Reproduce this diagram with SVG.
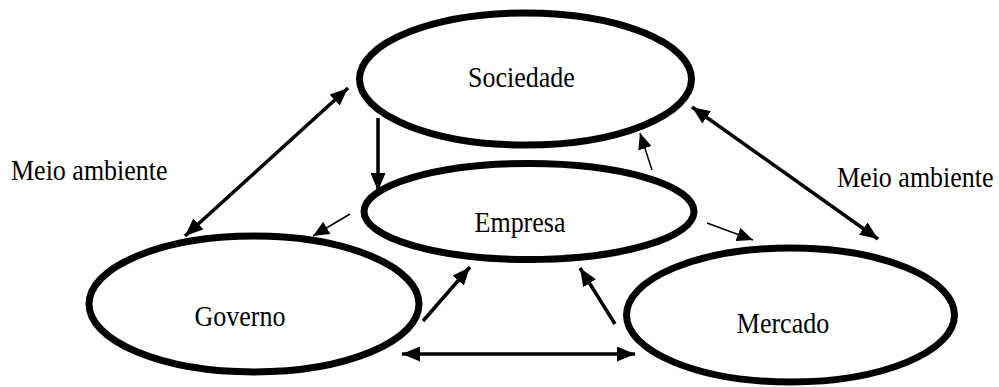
<svg xmlns="http://www.w3.org/2000/svg" width="999" height="387" viewBox="0 0 999 387">
<style>
.node ellipse{fill:none;stroke:#000;stroke-width:7}
.lbl{font-family:"Liberation Serif","Times New Roman",serif;font-size:26px;fill:#000}
.thick{stroke:#000;stroke-width:3.5;fill:none}
.thin{stroke:#000;stroke-width:1.5;fill:none}
</style>
<defs>
<marker id="hk" markerUnits="userSpaceOnUse" viewBox="0 0 18 15" markerWidth="18" markerHeight="15" refX="18" refY="7.5" orient="auto-start-reverse"><path d="M0,0 L18,7.5 L0,15 z" fill="#000"/></marker>
<marker id="hn" markerUnits="userSpaceOnUse" viewBox="0 0 16 14" markerWidth="16" markerHeight="14" refX="16" refY="7" orient="auto-start-reverse"><path d="M0,0 L16,7 L0,14 z" fill="#000"/></marker>
</defs>
<rect width="999" height="387" fill="#fff"/>
<g id="sociedade" class="node"><ellipse cx="525.5" cy="79" rx="166" ry="66"/><text class="lbl" text-anchor="middle" transform="translate(521.5,87) scale(1,1.15)">Sociedade</text></g>
<g id="empresa" class="node"><ellipse cx="529" cy="211.5" rx="165" ry="48"/><text class="lbl" text-anchor="middle" transform="translate(520,232) scale(1,1.15)">Empresa</text></g>
<g id="governo" class="node"><ellipse cx="254" cy="304" rx="165" ry="68"/><text class="lbl" text-anchor="middle" transform="translate(240,326) scale(1,1.15)">Governo</text></g>
<g id="mercado" class="node"><ellipse cx="790.5" cy="315" rx="164" ry="67"/><text class="lbl" text-anchor="middle" transform="translate(783,333) scale(1,1.15)">Mercado</text></g>
<g id="labels">
<text class="lbl" transform="translate(11,180) scale(1,1.15)">Meio ambiente</text>
<text class="lbl" transform="translate(837,187) scale(1,1.15)">Meio ambiente</text>
</g>
<g id="connectors">
<line class="thick" x1="348" y1="88" x2="185" y2="236" marker-start="url(#hk)" marker-end="url(#hk)"/>
<line class="thick" x1="378" y1="118" x2="378" y2="191" marker-end="url(#hk)"/>
<line class="thick" x1="692" y1="107" x2="878" y2="239" marker-start="url(#hk)" marker-end="url(#hk)"/>
<line class="thick" x1="423" y1="321" x2="470" y2="267" marker-end="url(#hk)"/>
<line class="thick" x1="615" y1="324" x2="580" y2="268" marker-end="url(#hk)"/>
<line class="thick" x1="402" y1="354" x2="635" y2="354" marker-start="url(#hk)" marker-end="url(#hk)"/>
<line class="thin" x1="652" y1="170" x2="640" y2="133" marker-end="url(#hn)"/>
<line class="thin" x1="350" y1="214" x2="313" y2="236" marker-end="url(#hn)"/>
<line class="thin" x1="707" y1="223" x2="753" y2="240" marker-end="url(#hn)"/>
</g>
</svg>
